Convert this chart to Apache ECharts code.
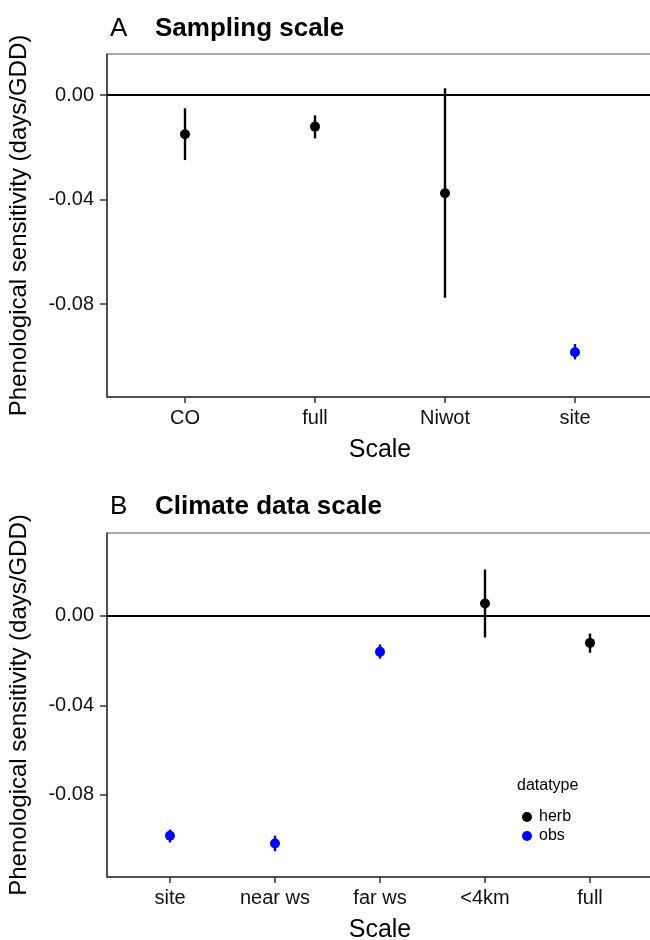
<!DOCTYPE html>
<html>
<head>
<meta charset="utf-8">
<script src="https://cdn.jsdelivr.net/npm/echarts@6/dist/echarts.min.js"></script>
<style>
  html, body { margin: 0; padding: 0; background: #fff; }
  #main { width: 650px; height: 940px; }
</style>
</head>
<body>
<div id="main"></div>
<script>
// panel A: sampling scale
const scaleA = ['CO', 'full', 'Niwot', 'site'];
const typeA = ['herb', 'herb', 'herb', 'obs'];
const estA = [-0.0150, -0.0121, -0.0376, -0.0985];
const loA = [-0.0249, -0.0166, -0.0776, -0.1012];
const hiA = [-0.0051, -0.0078, 0.0026, -0.0953];
const rangeA = [-0.1156, 0.0157];

// panel B: climate data scale
const scaleB = ['site', 'near ws', 'far ws', '<4km', 'full'];
const typeB = ['obs', 'obs', 'obs', 'herb', 'herb'];
const estB = [-0.0983, -0.1017, -0.0161, 0.0055, -0.0121];
const loB = [-0.1013, -0.1052, -0.0191, -0.0097, -0.0165];
const hiB = [-0.0955, -0.0982, -0.0128, 0.0207, -0.0079];
const rangeB = [-0.1167, 0.037];

const yTicks = [-0.08, -0.04, 0];
const typeColor = { herb: '#000000', obs: '#0000ff' };
const FONT = 'Liberation Sans, Arial, sans-serif';

let myChart = echarts.init(document.getElementById('main'), null, { renderer: 'canvas' });

const xAxisFor = (cats, gridIndex) => ({
  type: 'value',
  gridIndex: gridIndex,
  min: -0.6,
  max: cats.length - 1 + 0.6,
  name: 'Scale',
  nameLocation: 'middle',
  nameGap: 41,
  nameTextStyle: { fontFamily: FONT, fontSize: 25, color: '#000' },
  axisLine: { show: true, onZero: false, lineStyle: { color: '#333', width: 1.5 } },
  axisTick: { show: true, length: 6, customValues: cats.map((c, i) => i), lineStyle: { color: '#333', width: 1.5 } },
  axisLabel: {
    customValues: cats.map((c, i) => i),
    formatter: v => cats[Math.round(v)],
    fontFamily: FONT, fontSize: 20, color: '#111', margin: 11
  },
  splitLine: { show: false }
});

const yAxisFor = (range, gridIndex) => ({
  type: 'value',
  gridIndex: gridIndex,
  min: range[0],
  max: range[1],
  name: 'Phenological sensitivity (days/GDD)',
  nameLocation: 'middle',
  nameRotate: 90,
  nameGap: 76,
  nameTextStyle: { fontFamily: FONT, fontSize: 24, color: '#000' },
  axisLine: { show: true, onZero: false, lineStyle: { color: '#333', width: 1.5 } },
  axisTick: { show: true, length: 7, customValues: yTicks, lineStyle: { color: '#333', width: 1.5 } },
  axisLabel: {
    customValues: yTicks,
    formatter: v => v.toFixed(2),
    fontFamily: FONT, fontSize: 20, color: '#111', margin: 13
  },
  splitLine: { show: false }
});

const errorSeries = (types, lo, hi, idx) => ({
  type: 'custom',
  name: 'err' + idx,
  xAxisIndex: idx,
  yAxisIndex: idx,
  data: lo.map((v, i) => [i, v, hi[i]]),
  renderItem: (params, api) => {
    const p1 = api.coord([api.value(0), api.value(1)]);
    const p2 = api.coord([api.value(0), api.value(2)]);
    return {
      type: 'line',
      shape: { x1: p1[0], y1: p1[1], x2: p2[0], y2: p2[1] },
      style: { stroke: typeColor[types[params.dataIndex]], lineWidth: 2.4 }
    };
  },
  z: 3
});

const pointSeries = (kind, types, est, idx) => ({
  type: 'scatter',
  name: kind,
  xAxisIndex: idx,
  yAxisIndex: idx,
  symbol: 'circle',
  symbolSize: 10,
  itemStyle: { color: typeColor[kind], opacity: 1 },
  data: est.map((v, i) => [i, v]).filter((d, i) => types[i] === kind),
  z: 4
});

const zeroLine = (idx) => ({
  type: 'line',
  name: 'zero' + idx,
  xAxisIndex: idx,
  yAxisIndex: idx,
  data: [],
  markLine: {
    silent: true,
    symbol: 'none',
    label: { show: false },
    lineStyle: { color: '#000', width: 2.2, type: 'solid' },
    data: [{ yAxis: 0 }]
  },
  z: 2
});

myChart.setOption({
  animation: false,
  backgroundColor: '#fff',
  title: [
    { text: 'A', left: 105, top: 11, textStyle: { fontFamily: FONT, fontSize: 26, fontWeight: 'normal', color: '#000' } },
    { text: 'Sampling scale', left: 150, top: 11, textStyle: { fontFamily: FONT, fontSize: 26, fontWeight: 'bold', color: '#000' } },
    { text: 'B', left: 105, top: 489, textStyle: { fontFamily: FONT, fontSize: 26, fontWeight: 'normal', color: '#000' } },
    { text: 'Climate data scale', left: 150, top: 489, textStyle: { fontFamily: FONT, fontSize: 26, fontWeight: 'bold', color: '#000' } }
  ],
  grid: [
    { left: 107, right: -3, top: 54, height: 343, outerBoundsMode: 'none', containLabel: false,
      show: true, borderColor: '#555', borderWidth: 1, backgroundColor: '#fff' },
    { left: 107, right: -3, top: 533, height: 344, outerBoundsMode: 'none', containLabel: false,
      show: true, borderColor: '#555', borderWidth: 1, backgroundColor: '#fff' }
  ],
  xAxis: [xAxisFor(scaleA, 0), xAxisFor(scaleB, 1)],
  yAxis: [yAxisFor(rangeA, 0), yAxisFor(rangeB, 1)],
  legend: {
    data: ['herb', 'obs'],
    orient: 'vertical',
    left: 517,
    top: 804,
    icon: 'circle',
    itemWidth: 12,
    itemHeight: 10,
    itemGap: 3,
    textStyle: { fontFamily: FONT, fontSize: 16, color: '#000', padding: [0, 0, 0, 1] },
    selectedMode: false
  },
  graphic: [
    { type: 'text', left: 517, top: 778, style: { text: 'datatype', font: '16px ' + FONT, fill: '#000' } }
  ],
  series: [
    zeroLine(0), zeroLine(1),
    errorSeries(typeA, loA, hiA, 0),
    errorSeries(typeB, loB, hiB, 1),
    pointSeries('herb', typeA, estA, 0),
    pointSeries('obs', typeA, estA, 0),
    pointSeries('herb', typeB, estB, 1),
    pointSeries('obs', typeB, estB, 1)
  ]
});

window.addEventListener('resize', () => {
  myChart.resize();
});
</script>
</body>
</html>
